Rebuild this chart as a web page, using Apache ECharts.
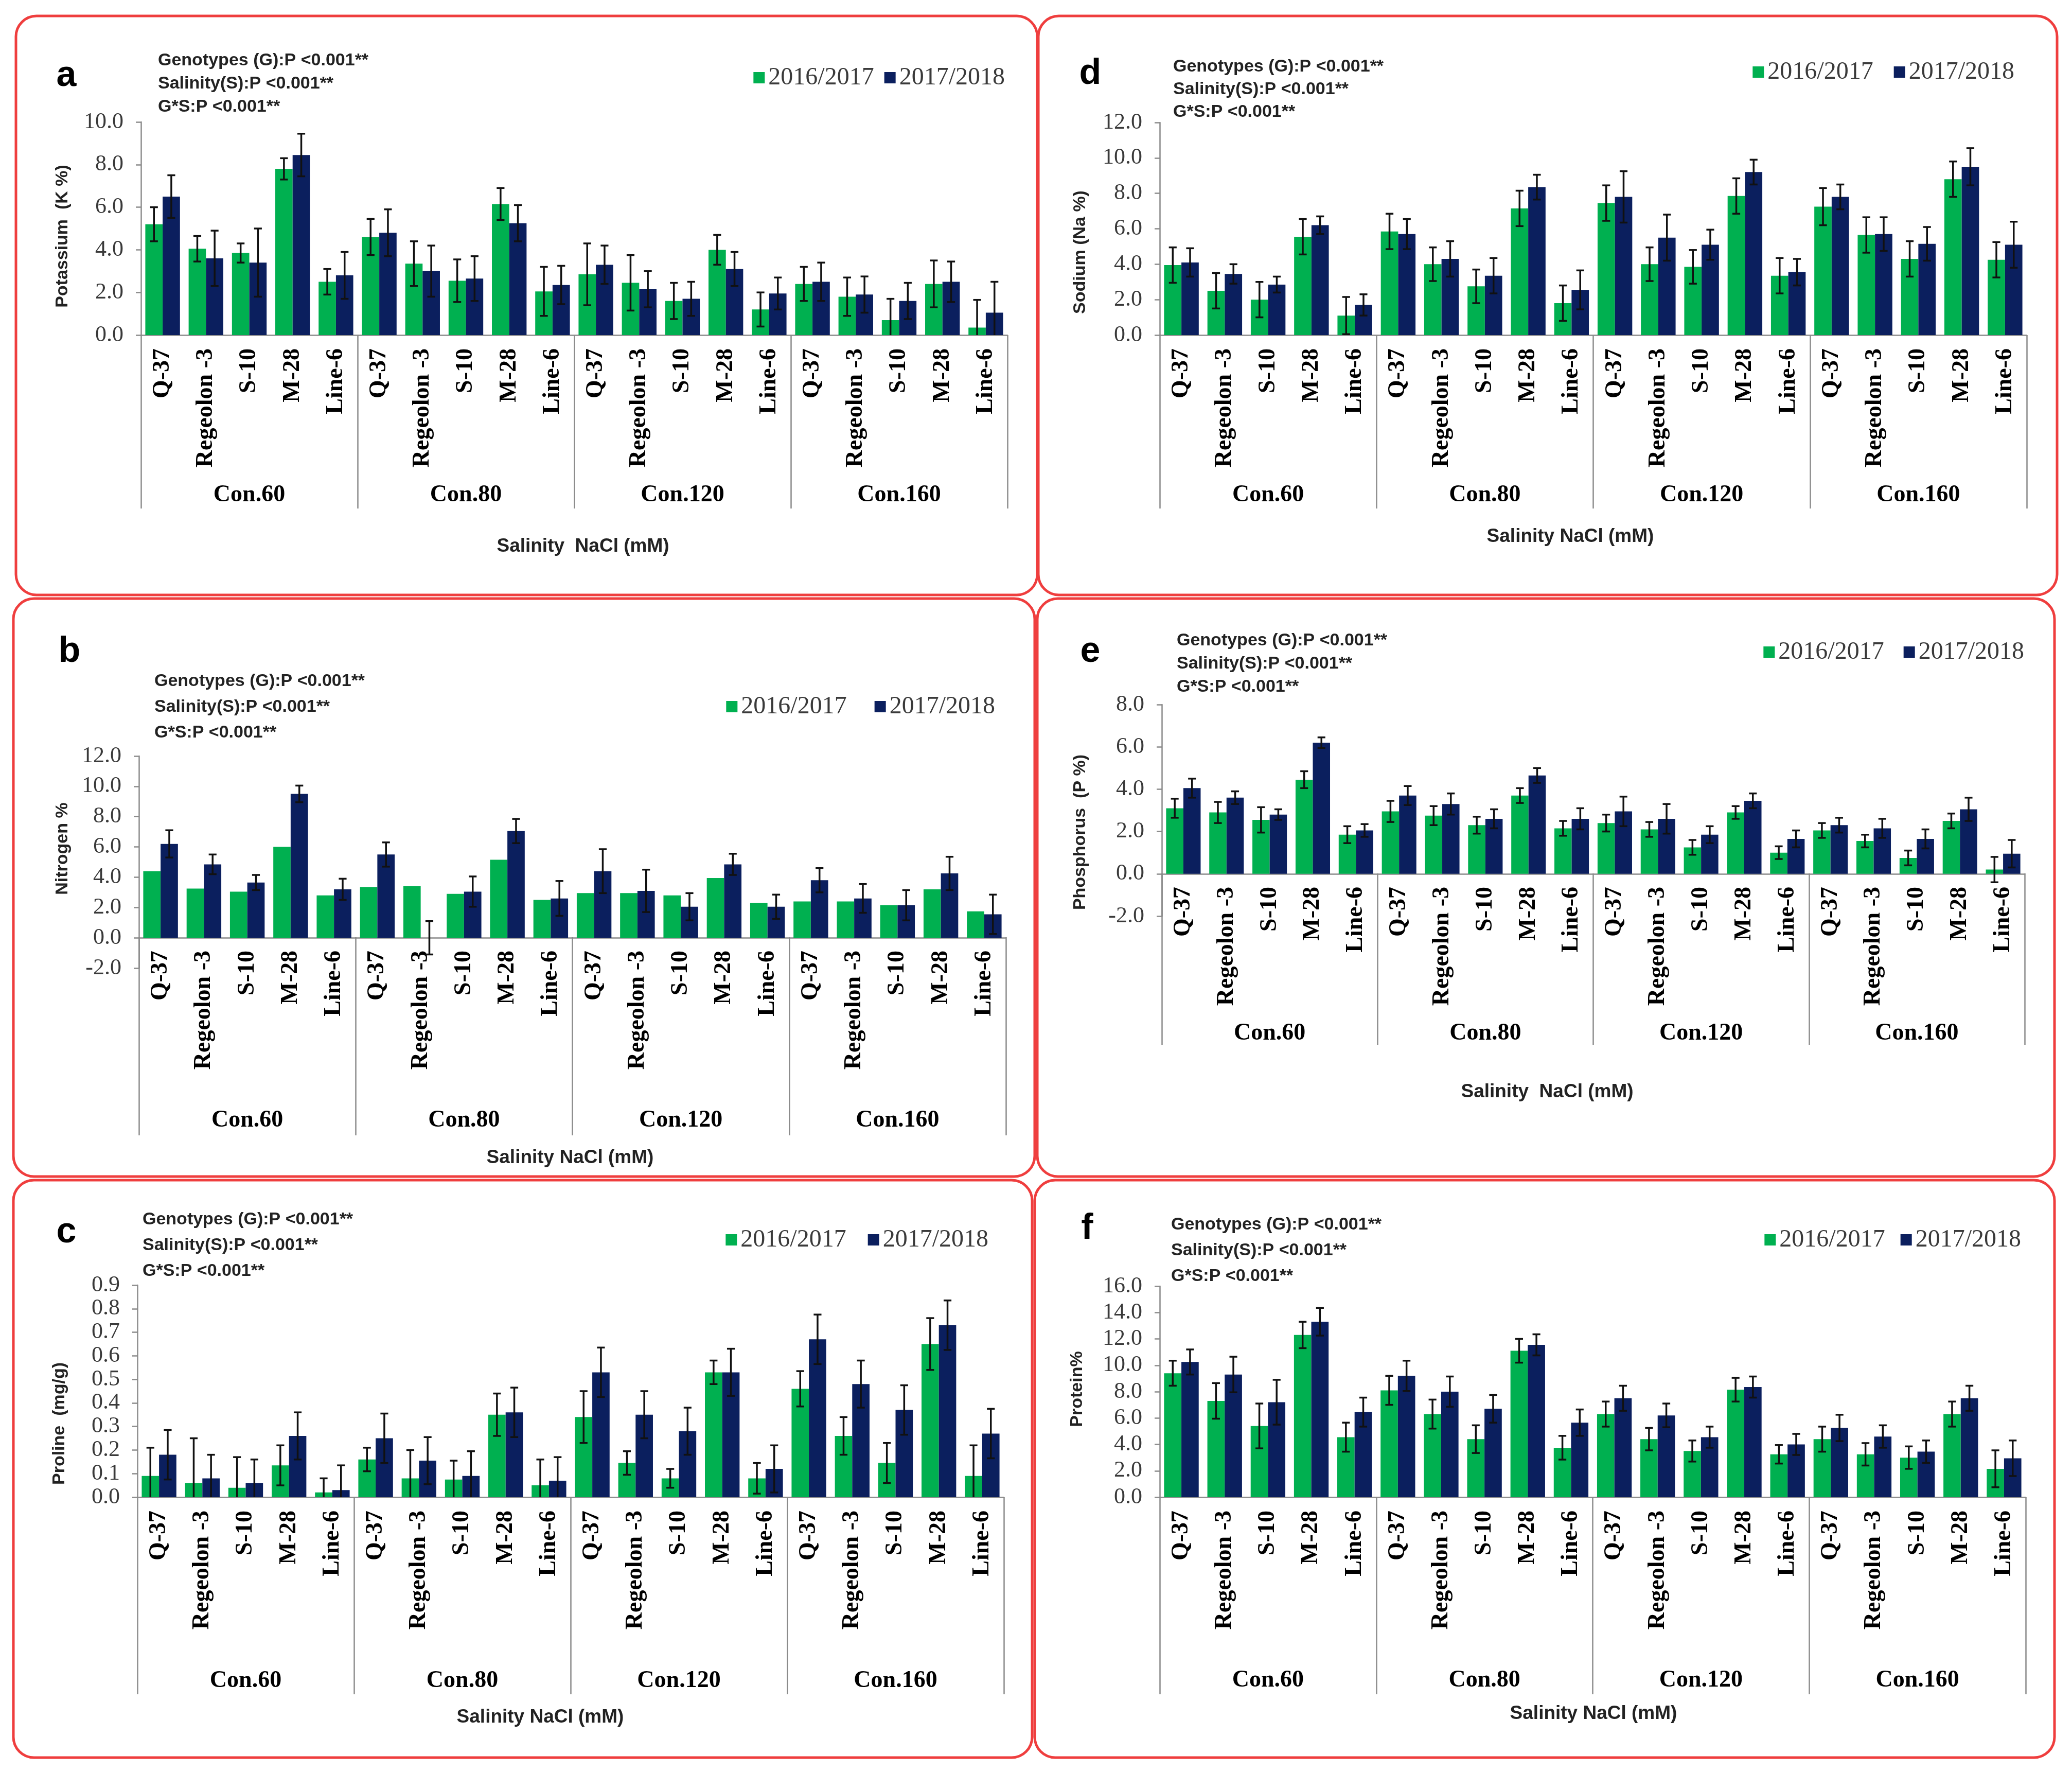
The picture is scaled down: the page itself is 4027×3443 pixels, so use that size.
<!DOCTYPE html>
<html>
<head>
<meta charset="utf-8">
<script src="https://cdn.jsdelivr.net/npm/echarts@6/dist/echarts.min.js"></script>
<style>html,body{margin:0;padding:0;background:#fff}#c{width:4027px;height:3443px}</style>
</head>
<body>
<div id="c"></div>
<script>
// ---------- categories ----------
const genotypes = ['Q-37', 'Regeolon -3', 'S-10', 'M-28', 'Line-6'];
const salinityGroups = ['Con.60', 'Con.80', 'Con.120', 'Con.160'];
const seriesNames = ['2016/2017', '2017/2018'];

// ---------- a: Potassium ----------
const potassium16 = [5.2, 4.05, 3.85, 7.8, 2.5, 4.6, 3.35, 2.55, 6.15, 2.05, 2.85, 2.45, 1.6, 4.0, 1.2, 2.4, 1.8, 0.7, 2.4, 0.35];
const potassium17 = [6.5, 3.6, 3.4, 8.45, 2.8, 4.8, 3.0, 2.65, 5.25, 2.35, 3.3, 2.15, 1.7, 3.1, 1.95, 2.5, 1.9, 1.6, 2.5, 1.05];
const potassium16Err = [0.8, 0.6, 0.45, 0.5, 0.6, 0.85, 1.05, 1.0, 0.75, 1.15, 1.45, 1.3, 0.85, 0.7, 0.8, 0.8, 0.9, 1.0, 1.1, 1.3];
const potassium17Err = [1.0, 1.3, 1.6, 1.0, 1.1, 1.1, 1.2, 1.05, 0.85, 0.9, 0.9, 0.85, 0.8, 0.8, 0.75, 0.9, 0.85, 0.85, 0.95, 1.45];

// ---------- d: Sodium ----------
const sodium16 = [3.95, 2.5, 2.0, 5.55, 1.1, 5.85, 4.0, 2.75, 7.15, 1.8, 7.45, 4.0, 3.85, 7.85, 3.35, 7.25, 5.65, 4.3, 8.8, 4.25];
const sodium17 = [4.1, 3.45, 2.85, 6.2, 1.7, 5.7, 4.3, 3.35, 8.35, 2.55, 7.8, 5.5, 5.1, 9.2, 3.55, 7.8, 5.7, 5.15, 9.5, 5.1];
const sodium16Err = [1.0, 1.0, 1.0, 1.0, 1.05, 1.0, 0.95, 0.95, 1.0, 1.0, 1.0, 0.95, 0.95, 1.0, 1.0, 1.05, 1.0, 1.0, 1.0, 1.0];
const sodium17Err = [0.8, 0.55, 0.45, 0.5, 0.6, 0.85, 1.0, 1.0, 0.7, 1.1, 1.45, 1.3, 0.85, 0.7, 0.75, 0.7, 0.95, 0.95, 1.05, 1.3];

// ---------- b: Nitrogen ----------
const nitrogen16 = [4.4, 3.25, 3.05, 6.0, 2.8, 3.35, 3.4, 2.9, 5.15, 2.5, 2.95, 2.95, 2.8, 3.95, 2.3, 2.4, 2.4, 2.15, 3.2, 1.75];
const nitrogen17 = [6.2, 4.85, 3.65, 9.5, 3.2, 5.5, 0, 3.05, 7.05, 2.6, 4.4, 3.1, 2.05, 4.85, 2.05, 3.8, 2.6, 2.15, 4.25, 1.55];
const nitrogen16Err = null;
const nitrogen17Err = [0.9, 0.65, 0.5, 0.55, 0.7, 0.8, 1.1, 1.0, 0.8, 1.15, 1.45, 1.4, 0.9, 0.7, 0.8, 0.8, 0.95, 1.0, 1.1, 1.3];

// ---------- e: Phosphorus ----------
const phosphorus16 = [3.1, 2.9, 2.55, 4.45, 1.85, 2.95, 2.75, 2.3, 3.7, 2.15, 2.4, 2.1, 1.25, 2.9, 1.0, 2.05, 1.55, 0.75, 2.5, 0.2];
const phosphorus17 = [4.05, 3.6, 2.8, 6.2, 2.05, 3.7, 3.3, 2.6, 4.65, 2.6, 2.95, 2.6, 1.85, 3.45, 1.65, 2.3, 2.15, 1.65, 3.05, 0.95];
const phosphorus16Err = [0.45, 0.5, 0.6, 0.4, 0.4, 0.5, 0.45, 0.4, 0.35, 0.35, 0.4, 0.35, 0.35, 0.3, 0.3, 0.35, 0.3, 0.35, 0.35, 0.6];
const phosphorus17Err = [0.45, 0.3, 0.25, 0.25, 0.3, 0.45, 0.5, 0.45, 0.35, 0.5, 0.7, 0.7, 0.4, 0.35, 0.4, 0.35, 0.45, 0.45, 0.55, 0.65];

// ---------- c: Proline ----------
const proline16 = [0.09, 0.06, 0.04, 0.135, 0.02, 0.16, 0.08, 0.075, 0.35, 0.05, 0.34, 0.145, 0.08, 0.53, 0.08, 0.46, 0.26, 0.145, 0.65, 0.09];
const proline17 = [0.18, 0.08, 0.06, 0.26, 0.03, 0.25, 0.155, 0.09, 0.36, 0.07, 0.53, 0.35, 0.28, 0.53, 0.12, 0.67, 0.48, 0.37, 0.73, 0.27];
const proline16Err = [0.12, 0.19, 0.13, 0.085, 0.06, 0.05, 0.12, 0.08, 0.09, 0.11, 0.11, 0.05, 0.04, 0.05, 0.065, 0.075, 0.08, 0.085, 0.11, 0.13];
const proline17Err = [0.105, 0.1, 0.1, 0.1, 0.105, 0.105, 0.1, 0.105, 0.105, 0.1, 0.105, 0.1, 0.1, 0.1, 0.1, 0.105, 0.1, 0.105, 0.105, 0.105];

// ---------- f: Protein ----------
const protein16 = [9.4, 7.3, 5.4, 12.3, 4.55, 8.1, 6.3, 4.4, 11.1, 3.75, 6.3, 4.4, 3.5, 8.15, 3.25, 4.4, 3.25, 3.0, 6.3, 2.15];
const protein17 = [10.25, 9.3, 7.2, 13.3, 6.45, 9.2, 8.0, 6.7, 11.55, 5.65, 7.5, 6.2, 4.55, 8.35, 4.0, 5.25, 4.6, 3.45, 7.5, 2.95];
const protein16Err = [0.95, 1.35, 1.7, 1.0, 1.1, 1.1, 1.1, 1.05, 0.9, 0.9, 0.95, 0.85, 0.8, 0.9, 0.7, 0.95, 0.85, 0.85, 0.95, 1.4];
const protein17Err = [0.95, 1.35, 1.7, 1.05, 1.1, 1.15, 1.15, 1.05, 0.8, 1.0, 0.95, 0.9, 0.8, 0.8, 0.8, 1.0, 0.85, 0.85, 0.95, 1.35];

const statLines = ['Genotypes (G):P <0.001**', 'Salinity(S):P <0.001**', 'G*S:P <0.001**'];

// ---------- layout (pixel geometry, not data) ----------
const W = 4027, H = 3443;
const GREEN = '#00B050', NAVY = '#0B1F5E', AXIS = '#8a8a8a', RED = '#EF3E3E';
const SERIF = '"Liberation Serif", "DejaVu Serif", serif';
const SANS = '"Liberation Sans", Arial, sans-serif';

const panels = [
  { letter: 'a', yName: 'Potassium  (K %)', v16: potassium16, v17: potassium17, e16: potassium16Err, e17: potassium17Err,
    min: 0, max: 10, interval: 2, dec: 1,
    box: [31, 31, 2016, 1156], gl: 274, gr: 1958, gt: 237, gb: 651, zeroY: 651, divB: 988, grpY: 962,
    xTitle: [1133, 1062, 'Salinity  NaCl (mM)'], stats: [307, 118, 45], let: [129, 148], yT: [122, 459],
    leg: [1958, 148, 20] },
  { letter: 'd', yName: 'Sodium (Na %)', v16: sodium16, v17: sodium17, e16: sodium16Err, e17: sodium17Err,
    min: 0, max: 12, interval: 2, dec: 1,
    box: [2018, 31, 3998, 1156], gl: 2254, gr: 3939, gt: 238, gb: 651, zeroY: 651, divB: 988, grpY: 962,
    xTitle: [3052, 1043, 'Salinity NaCl (mM)'], stats: [2280, 130, 44], let: [2119, 144], yT: [2100, 490],
    leg: [3920, 137, 40] },
  { letter: 'b', yName: 'Nitrogen %', v16: nitrogen16, v17: nitrogen17, e16: nitrogen16Err, e17: nitrogen17Err,
    min: -2, max: 12, interval: 2, dec: 1,
    box: [26, 1163, 2011, 2286], gl: 270, gr: 1955, gt: 1469, gb: 1881, zeroY: 1821, divB: 2206, grpY: 2177,
    xTitle: [1108, 2250, 'Salinity NaCl (mM)'], stats: [300, 1324, 50], let: [135, 1267], yT: [122, 1649],
    leg: [1939, 1370, 54] },
  { letter: 'e', yName: 'Phosphorus  (P %)', v16: phosphorus16, v17: phosphorus17, e16: phosphorus16Err, e17: phosphorus17Err,
    min: -2, max: 8, interval: 2, dec: 1,
    box: [2016, 1163, 3993, 2286], gl: 2258, gr: 3935, gt: 1369, gb: 1780, zeroY: 1697, divB: 2030, grpY: 2008,
    xTitle: [3007, 2122, 'Salinity  NaCl (mM)'], stats: [2287, 1245, 45], let: [2119, 1267], yT: [2100, 1617],
    leg: [3939, 1264, 38] },
  { letter: 'c', yName: 'Proline  (mg/g)', v16: proline16, v17: proline17, e16: proline16Err, e17: proline17Err,
    min: 0, max: 0.9, interval: 0.1, dec: 1,
    box: [26, 2293, 2006, 3415], gl: 267, gr: 1951, gt: 2497, gb: 2909, zeroY: 2909, divB: 3292, grpY: 3266,
    xTitle: [1050, 3337, 'Salinity NaCl (mM)'], stats: [277, 2370, 50], let: [129, 2395], yT: [116, 2766],
    leg: [1926, 2406, 42] },
  { letter: 'f', yName: 'Protein%', v16: protein16, v17: protein17, e16: protein16Err, e17: protein17Err,
    min: 0, max: 16, interval: 2, dec: 1,
    box: [2011, 2293, 3993, 3415], gl: 2254, gr: 3937, gt: 2499, gb: 2909, zeroY: 2909, divB: 3292, grpY: 3265,
    xTitle: [3097, 3330, 'Salinity NaCl (mM)'], stats: [2276, 2380, 50], let: [2113, 2388], yT: [2094, 2699],
    leg: [3933, 2406, 30] }
];

const xLabels = [];
salinityGroups.forEach(() => genotypes.forEach(g => xLabels.push(g)));

const grids = [], xAxes = [], yAxes = [], series = [], legends = [], graphics = [];

function errRender(sign) {
  return function (params, api) {
    const i = api.value(0), v = api.value(1), e = api.value(2);
    const w = api.size([1, 0])[0];
    const cx = api.coord([i, v])[0] + sign * 0.2 * w;
    const yTop = api.coord([i, v + e])[1];
    const yBot = api.coord([i, v - e])[1];
    const cap = 0.09 * w;
    const st = { stroke: '#111', lineWidth: 3.5 };
    return {
      type: 'group',
      children: [
        { type: 'line', shape: { x1: cx, y1: yTop, x2: cx, y2: yBot }, style: st },
        { type: 'line', shape: { x1: cx - cap, y1: yTop, x2: cx + cap, y2: yTop }, style: st },
        { type: 'line', shape: { x1: cx - cap, y1: yBot, x2: cx + cap, y2: yBot }, style: st }
      ]
    };
  };
}

panels.forEach((p, k) => {
  grids.push({ left: p.gl, top: p.gt, width: p.gr - p.gl, height: p.gb - p.gt, containLabel: false });
  yAxes.push({
    type: 'value', gridIndex: k, min: p.min, max: p.max, interval: p.interval,
    axisLine: { show: true, lineStyle: { color: AXIS, width: 2.5 } },
    axisTick: { show: true, length: 10, lineStyle: { color: AXIS, width: 2.5 } },
    splitLine: { show: false },
    axisLabel: { formatter: v => v.toFixed(p.dec), fontFamily: SERIF, fontSize: 44, color: '#3a3a3a', margin: 34 }
  });
  // genotype level: axis line at zero
  xAxes.push({
    type: 'category', gridIndex: k, data: xLabels, position: 'bottom',
    axisLine: { show: true, onZero: true, lineStyle: { color: AXIS, width: 2.5 } },
    axisTick: { show: false },
    axisLabel: { show: false }
  });
  // genotype labels (placed just under the zero line)
  xAxes.push({
    type: 'category', gridIndex: k, data: xLabels, position: 'bottom',
    axisLine: { show: false, onZero: false },
    axisTick: { show: false },
    axisLabel: { interval: 0, rotate: 90, fontFamily: SERIF, fontWeight: 'bold', fontSize: 46, color: '#000',
      margin: p.zeroY - p.gb + 26 }
  });
  // salinity level (group dividers + group labels)
  const lblMargin = p.divB - p.grpY - 23;
  xAxes.push({
    type: 'category', gridIndex: k, data: salinityGroups, position: 'bottom', offset: p.divB - p.gb,
    axisLine: { show: false, onZero: false },
    axisTick: { show: true, inside: true, length: p.divB - p.zeroY, lineStyle: { color: AXIS, width: 2.5 } },
    axisLabel: { inside: true, interval: 0, margin: lblMargin, fontFamily: SERIF, fontWeight: 'bold', fontSize: 46, color: '#000' }
  });
  const xi = k * 3;
  series.push({
    type: 'bar', name: seriesNames[0], xAxisIndex: xi, yAxisIndex: k, data: p.v16,
    itemStyle: { color: GREEN }, barGap: '0%', barCategoryGap: '20%'
  });
  series.push({
    type: 'bar', name: seriesNames[1], xAxisIndex: xi, yAxisIndex: k, data: p.v17,
    itemStyle: { color: NAVY }, barGap: '0%', barCategoryGap: '20%'
  });
  [[p.e16, p.v16, -1], [p.e17, p.v17, 1]].forEach(([errs, vals, sign]) => {
    if (!errs) return;
    series.push({
      type: 'custom', name: 'err', xAxisIndex: xi, yAxisIndex: k, z: 5, clip: true,
      data: vals.map((v, i) => [i, v, errs[i]]),
      encode: { x: 0, y: 1 },
      renderItem: errRender(sign)
    });
  });
  legends.push({
    data: seriesNames, right: W - p.leg[0], top: p.leg[1] - 26, itemGap: p.leg[2],
    itemWidth: 22, itemHeight: 22, icon: 'rect',
    textStyle: { fontFamily: SERIF, fontSize: 48, color: '#3a3a3a', padding: [0, 0, 0, 2] }
  });
  // frame
  graphics.push({
    type: 'rect', shape: { x: p.box[0], y: p.box[1], width: p.box[2] - p.box[0], height: p.box[3] - p.box[1], r: 40 },
    style: { fill: 'none', stroke: RED, lineWidth: 5 }, z: 10
  });
  // panel letter
  graphics.push({ type: 'text', x: p.let[0], y: p.let[1],
    style: { text: p.letter, font: 'bold 70px ' + SANS, fill: '#000', align: 'center', verticalAlign: 'middle' } });
  // stats
  statLines.forEach((t, j) => graphics.push({ type: 'text', x: p.stats[0], y: p.stats[1] + j * p.stats[2],
    style: { text: t, font: 'bold 34px ' + SANS, fill: '#222', align: 'left', verticalAlign: 'middle' } }));
  // y title
  graphics.push({ type: 'text', x: p.yT[0], y: p.yT[1], rotation: Math.PI / 2,
    style: { text: p.yName, font: 'bold 34px ' + SANS, fill: '#222', align: 'center', verticalAlign: 'middle' } });
  // x title
  graphics.push({ type: 'text', x: p.xTitle[0], y: p.xTitle[1],
    style: { text: p.xTitle[2], font: 'bold 37px ' + SANS, fill: '#222', align: 'center', verticalAlign: 'middle' } });
});

const chart = echarts.init(document.getElementById('c'), null, { width: W, height: H, renderer: 'canvas' });
chart.setOption({
  backgroundColor: '#ffffff',
  animation: false,
  grid: grids, xAxis: xAxes, yAxis: yAxes, series: series, legend: legends, graphic: graphics
});
</script>
</body>
</html>
